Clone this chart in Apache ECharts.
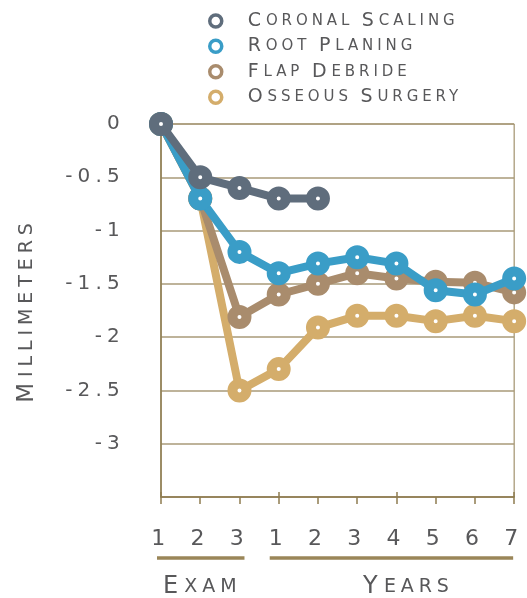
<!DOCTYPE html>
<html>
<head>
<meta charset="utf-8">
<style>html,body{margin:0;padding:0;background:#fff;}#c{width:527px;height:598px;}</style>
<script src="https://cdn.jsdelivr.net/npm/echarts@6/dist/echarts.min.js"></script>
</head>
<body>
<div id="c"></div>
<script>
// ---- data ----
const categories = ['Exam 1','Exam 2','Exam 3','Year 1','Year 2','Year 3','Year 4','Year 5','Year 6','Year 7'];
const xLabels = ['1','2','3','1','2','3','4','5','6','7'];
const coronalScaling = [0, -0.5, -0.6, -0.7, -0.7];
const rootPlaning    = [0, -0.7, -1.2, -1.4, -1.31, -1.25, -1.31, -1.56, -1.6, -1.45];
const flapDebride    = [0, -0.7, -1.81, -1.6, -1.5, -1.4, -1.45, -1.48, -1.49, -1.58];
const osseousSurgery = [0, -0.7, -2.5, -2.3, -1.91, -1.8, -1.8, -1.85, -1.8, -1.85];
const seriesNames = ['Coronal Scaling','Root Planing','Flap Debride','Osseous Surgery'];
const yTicks = [0, -0.5, -1, -1.5, -2, -2.5, -3];
const groups = [
  {name: 'Exam', from: 'Exam 1', to: 'Exam 3'},
  {name: 'Years', from: 'Year 1', to: 'Year 7'}
];

// ---- tracked lettering (wide letter spacing like the original typeface) ----
(function(){
  const P = CanvasRenderingContext2D.prototype;
  if (!('letterSpacing' in P)) return;
  const d = Object.getOwnPropertyDescriptor(P, 'font');
  Object.defineProperty(P, 'font', {
    configurable: true,
    get(){ return d.get.call(this); },
    set(v){
      d.set.call(this, v);
      const m = /(\d+(?:\.\d+)?)px/.exec(v);
      this.letterSpacing = m ? (parseFloat(m[1]) * 0.26).toFixed(1) + 'px' : '0px';
    }
  });
})();

const FONT = 'DejaVu Sans';
const TXT = '#58585a';
const GRIDC = '#a89a78';
const AXISC = '#8e7c50';
const colors = ['#5f6d7c', '#3a9dc7', '#a98c6d', '#d4ad6b'];

function sc(s){
  return s.split(' ').map(w => '{big|' + w[0].toUpperCase() + '}' +
    (w.length > 1 ? '{sm|' + w.slice(1).toUpperCase() + '}' : '')).join('{sm| }');
}

const chart = echarts.init(document.getElementById('c'), null, {renderer: 'canvas'});
const dataSets = [coronalScaling, rootPlaning, flapDebride, osseousSurgery];
const zs = [8, 6, 4, 2];

chart.setOption({
  animation: false,
  backgroundColor: '#fff',
  textStyle: {fontFamily: FONT, color: TXT},
  legend: {
    orient: 'vertical',
    left: 203, top: 4,
    itemWidth: 54, itemHeight: 12, itemGap: 1.5,
    icon: 'circle',
    itemStyle: {borderWidth: 3.5},
    data: seriesNames,
    formatter: n => sc(n),
    textStyle: {
      color: TXT,
      rich: {
        big: {fontSize: 19, lineHeight: 20, fontFamily: FONT, color: TXT},
        sm: {fontSize: 15, lineHeight: 20, fontFamily: FONT, color: TXT}
      }
    }
  },
  grid: {left: 161, right: 8, top: 124, bottom: 101, show: true, borderColor: AXISC, borderWidth: 1, backgroundColor: 'transparent'},
  xAxis: [{
    type: 'category', data: categories, boundaryGap: false, position: 'bottom',
    axisLine: {onZero: false, lineStyle: {color: AXISC, width: 1.5}},
    axisTick: {show: true, length: 7, lineStyle: {color: AXISC, width: 1.5}},
    axisLabel: {margin: 28, fontSize: 22, color: TXT, fontFamily: FONT, formatter: (v, i) => xLabels[i]},
    splitLine: {show: false}
  }, {
    type: 'category', data: categories, boundaryGap: false, position: 'bottom',
    axisLine: {show: false, onZero: false},
    axisTick: {show: true, inside: true, length: 5, lineStyle: {color: AXISC, width: 1.5}},
    axisLabel: {show: false},
    splitLine: {show: false}
  }],
  yAxis: {
    type: 'value', min: -3.5, max: 0, interval: 0.5,
    name: sc('Millimeters'), nameLocation: 'middle', nameRotate: 90, nameGap: 122,
    nameTextStyle: {
      rich: {
        big: {fontSize: 23, lineHeight: 24, fontFamily: FONT, color: TXT},
        sm: {fontSize: 19, lineHeight: 24, fontFamily: FONT, color: TXT}
      }
    },
    axisLine: {show: true, lineStyle: {color: AXISC, width: 1.5}},
    axisTick: {show: false},
    axisLabel: {margin: 36, fontSize: 20, color: TXT, fontFamily: FONT,
      formatter: v => (yTicks.indexOf(v) >= 0 ? String(v) : '')},
    splitLine: {show: true, lineStyle: {color: GRIDC, width: 1.5}}
  },
  series: seriesNames.map((n, i) => ({
    name: n, type: 'line', data: dataSets[i], z: zs[i], clip: false,
    symbol: 'circle', symbolSize: 14, showAllSymbol: true,
    lineStyle: {color: colors[i], width: 8},
    itemStyle: {color: '#fff', borderColor: colors[i], borderWidth: 10},
    emphasis: {disabled: true}
  }))
});

// group brackets under the category labels, placed from the axis scale
const yBase = chart.convertToPixel({yAxisIndex: 0}, -3.5);
const g = [];
groups.forEach((gr, k) => {
  const x1 = chart.convertToPixel({xAxisIndex: 0}, gr.from);
  const x2 = chart.convertToPixel({xAxisIndex: 0}, gr.to);
  const a = k === 0 ? x1 - 4 : x1 - 9;
  const b = k === 0 ? x2 + 5 : x2 - 1;
  g.push({type: 'line', shape: {x1: a, y1: yBase + 61, x2: b, y2: yBase + 61},
    style: {stroke: '#9a8658', lineWidth: 3.5}, silent: true});
  const cx = k === 0 ? (x1 + x2) / 2 + 2 : (x1 + x2) / 2 + 12;
  g.push({type: 'text', x: cx, y: yBase + 90, silent: true,
    style: {text: sc(gr.name), align: 'center', verticalAlign: 'middle', fill: TXT,
      rich: {
        big: {fontSize: 24, lineHeight: 26, fontFamily: FONT, fill: TXT},
        sm: {fontSize: 19, lineHeight: 26, fontFamily: FONT, fill: TXT}
      }}});
});
chart.setOption({graphic: g});
</script>
</body>
</html>
